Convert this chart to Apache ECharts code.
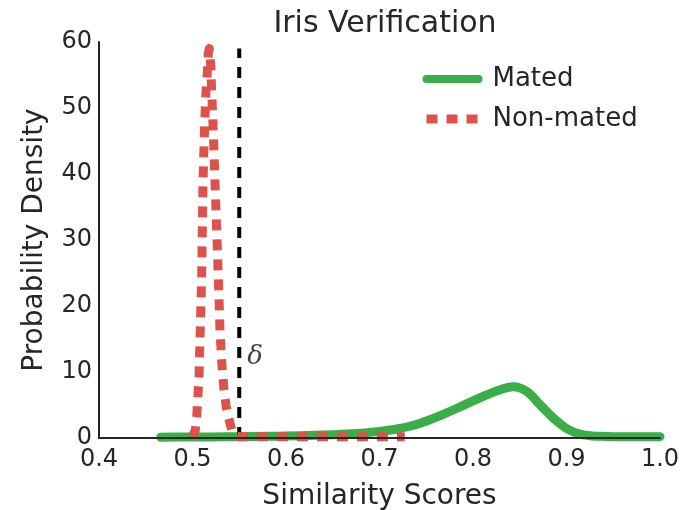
<!DOCTYPE html>
<html>
<head>
<meta charset="utf-8">
<script src="https://cdn.jsdelivr.net/npm/echarts@6/dist/echarts.min.js"></script>
<style>
html,body{margin:0;padding:0;background:#fff;}
#chart{width:692px;height:510px;}
</style>
</head>
<body>
<div id="chart"></div>
<script>
const xTicks = [0.4, 0.5, 0.6, 0.7, 0.8, 0.9, 1.0];
const yTicks = [0, 10, 20, 30, 40, 50, 60];

const matedX = [0.466, 0.48, 0.50, 0.52, 0.55, 0.58, 0.60, 0.63, 0.65, 0.67, 0.69, 0.70, 0.72, 0.743, 0.765, 0.786, 0.8075, 0.829, 0.843, 0.858, 0.872, 0.886, 0.9005, 0.914, 0.925, 0.936, 0.95, 0.97, 1.0];
const matedY = [0.12, 0.15, 0.15, 0.17, 0.2, 0.25, 0.3, 0.4, 0.5, 0.65, 0.85, 1.0, 1.4, 2.2, 3.4, 4.7, 6.1, 7.3, 7.75, 7.0, 5.0, 3.0, 1.4, 0.6, 0.35, 0.25, 0.2, 0.2, 0.2];

const nonMatedX = [0.500, 0.503, 0.5045, 0.507, 0.5083, 0.5098, 0.5105, 0.5112, 0.5126, 0.5141, 0.5158, 0.5169, 0.518, 0.5195, 0.5205, 0.5222, 0.524, 0.5259, 0.5277, 0.5294, 0.5315, 0.5337, 0.536, 0.5383, 0.542, 0.546, 0.55, 0.60, 0.65, 0.70, 0.727];
const nonMatedY = [0.2, 1.2, 3.2, 9.3, 16.4, 24.4, 31.5, 38.6, 45.7, 51.7, 55.3, 58.3, 59.0, 56.5, 52.5, 46.5, 39.0, 31.4, 24.0, 16.3, 11.0, 7.3, 4.8, 3.2, 1.2, 0.35, 0.2, 0.2, 0.2, 0.2, 0.2];

const thresholdX = [0.55, 0.55];
const thresholdY = [0, 59];
const deltaPoint = [0.55, 12.2];

const seriesNames = ['Mated', 'Non-mated'];
const titleText = 'Iris Verification';
const xName = 'Similarity Scores';
const yName = 'Probability Density';

const zip = (a, b) => a.map((v, i) => [v, b[i]]);

const textColor = '#262626';
const chart = echarts.init(document.getElementById('chart'), null, {renderer: 'canvas'});
chart.setOption({
  animation: false,
  backgroundColor: '#ffffff',
  title: {
    text: titleText,
    left: 380,
    textAlign: 'center',
    top: 4,
    textStyle: {fontFamily: 'DejaVu Sans', fontSize: 30, fontWeight: 'normal', color: textColor}
  },
  grid: {left: 99, right: 32, top: 42, bottom: 72, containLabel: false, outerBoundsMode: 'none'},
  legend: {
    orient: 'vertical',
    left: 417,
    top: 59,
    itemWidth: 52,
    itemHeight: 30,
    itemGap: 10,
    itemStyle: {opacity: 0},
    data: [
      {name: seriesNames[0], lineStyle: {width: 8, cap: 'round'}, itemStyle: {opacity: 0}},
      {name: seriesNames[1], lineStyle: {width: 9, cap: 'butt'}, itemStyle: {opacity: 0}}
    ],
    textStyle: {fontFamily: 'DejaVu Sans', fontSize: 26, color: textColor, padding: [0, 0, 0, 9], lineHeight: 30}
  },
  xAxis: {
    type: 'value',
    min: xTicks[0],
    max: xTicks[xTicks.length - 1],
    interval: 0.1,
    name: xName,
    nameLocation: 'middle',
    nameGap: 45,
    nameTextStyle: {fontFamily: 'DejaVu Sans', fontSize: 28, color: textColor},
    z: 10,
    axisLine: {show: true, lineStyle: {color: textColor, width: 2}},
    axisTick: {show: false},
    splitLine: {show: false},
    axisLabel: {
      margin: 10,
      fontFamily: 'DejaVu Sans', fontSize: 24, color: textColor,
      formatter: v => v.toFixed(1)
    }
  },
  yAxis: {
    type: 'value',
    min: yTicks[0],
    max: yTicks[yTicks.length - 1],
    interval: 10,
    name: yName,
    nameLocation: 'middle',
    nameGap: 50,
    nameRotate: 90,
    nameTextStyle: {fontFamily: 'DejaVu Sans', fontSize: 28, color: textColor},
    z: 10,
    axisLine: {show: true, lineStyle: {color: textColor, width: 2}},
    axisTick: {show: false},
    splitLine: {show: false},
    axisLabel: {margin: 7, fontFamily: 'DejaVu Sans', fontSize: 24, color: textColor}
  },
  series: [
    {
      name: seriesNames[0],
      type: 'line',
      data: zip(matedX, matedY),
      symbol: 'none',
      smooth: 0.3,
      lineStyle: {color: '#3aae49', width: 9, cap: 'round', join: 'round'},
      itemStyle: {color: '#3aae49'},
      z: 2
    },
    {
      name: 'threshold',
      type: 'line',
      data: zip(thresholdX, thresholdY),
      symbol: 'none',
      lineStyle: {color: '#000000', width: 4, type: [11, 9]},
      z: 3
    },
    {
      name: seriesNames[1],
      type: 'line',
      data: zip(nonMatedX, nonMatedY),
      symbol: 'none',
      smooth: false,
      lineStyle: {color: '#dd524b', width: 9, type: [11, 9], cap: 'butt', join: 'round'},
      itemStyle: {color: '#dd524b'},
      z: 4
    },
    {
      name: 'delta',
      type: 'scatter',
      data: [deltaPoint],
      symbolSize: 0,
      silent: true,
      label: {
        show: true,
        position: 'right',
        distance: 8,
        formatter: 'δ',
        fontFamily: 'DejaVu Serif',
        fontStyle: 'italic',
        fontSize: 26,
        color: '#111111'
      },
      z: 5
    }
  ]
});
</script>
</body>
</html>
